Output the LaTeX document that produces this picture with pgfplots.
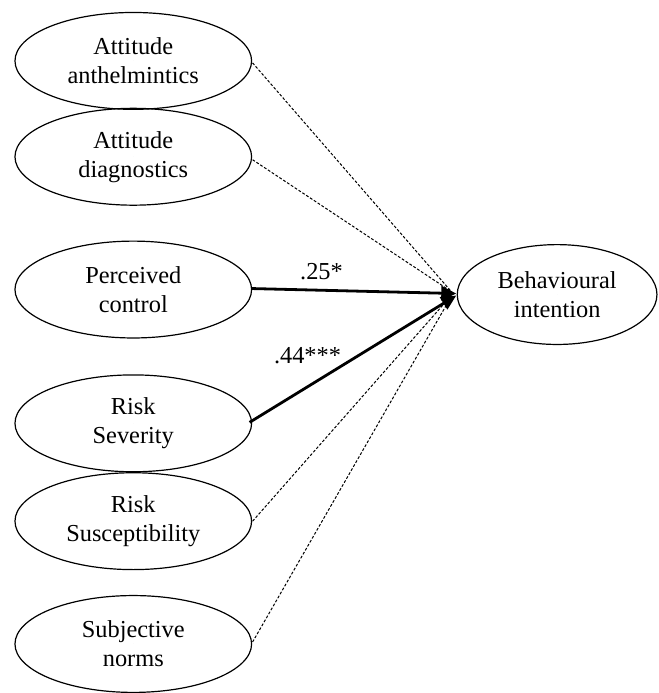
\documentclass[border=0pt]{standalone}
\usepackage{fontspec}
\setmainfont{Liberation Serif}
\usepackage{pgfplots}
\pgfplotsset{compat=1.18}
\usetikzlibrary{shapes.geometric,arrows.meta}

\begin{document}
\begin{tikzpicture}
\begin{axis}[
  scale only axis, width=660bp, height=693bp,
  xmin=0, xmax=660, ymin=0, ymax=693, y dir=reverse,
  hide axis, clip=false,
  path/.style={dash pattern=on 2.8bp off 1.8bp, line width=1bp, black},
  sig/.style={line width=2.8bp, black, -{Triangle[length=15bp,width=14bp]}},
  construct/.style={only marks, mark=*, mark size=0pt,
    nodes near coords={#1}, nodes near coords align=center,
    every node near coord/.append style={ellipse, draw=black, line width=1.2bp,
      minimum width=237bp, minimum height=97bp, inner sep=0pt, align=center,
      text=black, font=\fontsize{24.5}{29}\selectfont}},
  coef/.style={only marks, mark=*, mark size=0pt,
    nodes near coords={#1}, nodes near coords align=center,
    every node near coord/.append style={inner sep=0pt, text=black,
      font=\fontsize{24.5}{29}\selectfont}},
]
% keeps the frame at the reference size
\addplot[draw=none, forget plot] coordinates {(0,0) (660,693)};

% non-significant paths
\addplot[path] coordinates {(253,63) (452,292)};
\addplot[path] coordinates {(253,160) (452,292)};
\addplot[path] coordinates {(253,522) (452,296)};
\addplot[path] coordinates {(253,643) (452,297)};

% significant paths
\addplot[sig] coordinates {(252,289) (457,294)};
\addplot[sig] coordinates {(250,423) (457,296)};

% constructs
\addplot[construct={Attitude\\anthelmintics}] coordinates {(133.5,61)};
\addplot[construct={Attitude\\diagnostics}] coordinates {(133.5,157)};
\addplot[construct={Perceived\\control}] coordinates {(133.5,290)};
\addplot[construct={Risk\\Severity}] coordinates {(133.5,424)};
\addplot[construct={Risk\\Susceptibility}] coordinates {(133.5,522)};
\addplot[construct={Subjective\\norms}] coordinates {(133.5,645)};
\addplot[construct={Behavioural\\intention},
  every node near coord/.append style={minimum width=200bp, minimum height=100bp}]
  coordinates {(558,295)};

% coefficients
\addplot[coef={.25*}] coordinates {(322,272)};
\addplot[coef={.44***}] coordinates {(308,356)};
\end{axis}
\end{tikzpicture}
\end{document}
